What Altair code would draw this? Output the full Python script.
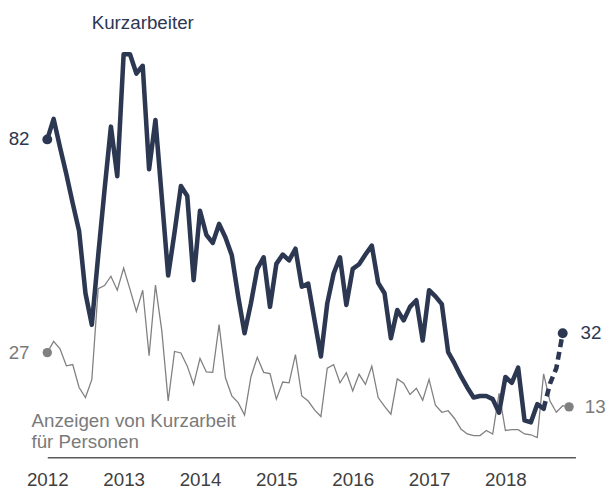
import altair as alt
import pandas as pd

years = ["2012", "2013", "2014", "2015", "2016", "2017", "2018"]

# Kurzarbeiter, monthly from Jan 2012 (last months preliminary -> dashed)
kurzarbeiter = [
    82, 87.3, 80, 73, 65.5, 58.4, 42.3, 34.2, 52, 69, 85.3, 72.5,
    104, 104, 99, 101, 74.3, 87, 67, 46.9, 58, 70, 67.4, 45.7,
    63.6, 57.4, 55.3, 60.2, 56.7, 52.1, 41.5, 32, 39.7, 48.6, 51.6, 38.8,
    49.9, 52.3, 50.8, 53.8, 44, 44.8, 35.4, 26, 39.7, 47.4, 51.6, 39.3,
    48.6, 49.8, 52.3, 54.6, 45, 42.3, 30.7, 38, 35.3, 38.8, 40.5, 30.1,
    43.1, 41.5, 39.5, 27.1, 24.2, 20.9, 18, 15.4, 15.8, 15.8, 15, 11.5,
    20.7, 19.2, 23.1, 9.5, 9, 13.7, 12.5, 19, 23, 32,
]
dash_start = 78

# Anzeigen von Kurzarbeit für Personen, monthly from Jan 2012
anzeigen = [
    27, 29.9, 28, 23.6, 23.9, 18, 15.4, 20, 43.5, 44.3, 46.7, 43.1,
    48.8, 43.3, 37.6, 43.1, 26.2, 44.4, 32.6, 14.5, 27.3, 26.9, 23.5, 18.8,
    25.5, 22, 21.9, 34.2, 20.5, 15.8, 14.1, 10.9, 20.7, 25.8, 21.9, 21.6,
    15, 19.4, 19.2, 26.5, 15.8, 14.5, 12.2, 10.5, 23, 23.9, 19.2, 21.8,
    17.1, 21.4, 18.8, 23.5, 15.4, 13.1, 11.1, 20.2, 19.1, 16.2, 17.8, 14.7,
    20.1, 13.4, 11.6, 12, 10, 7.3, 6, 5.6, 5.6, 6.9, 6, 16.5,
    6.9, 7.1, 7.1, 6, 5.8, 5.1, 21.5, 14.5, 11.6, 13.3, 13,
]

NAVY = "#2c3752"
GRAY = "#808080"
GRAY_TXT = "#7a7a7a"
FONT = "Liberation Sans"
FS = 19

df_k = pd.DataFrame({"m": list(range(len(kurzarbeiter))), "v": kurzarbeiter})
df_k_solid = df_k[df_k.m <= dash_start]
df_k_dash = df_k[df_k.m >= dash_start]
df_a = pd.DataFrame({"m": list(range(len(anzeigen))), "v": anzeigen})

k_first = df_k.iloc[[0]]
k_last = df_k.iloc[[-1]]
a_first = df_a.iloc[[0]]
a_last = df_a.iloc[[-1]]

label_expr = "[" + ",".join("'" + y + "'" for y in years) + "][datum.value / 12]"

x = alt.X(
    "m:Q",
    scale=alt.Scale(domain=[0, 83], nice=False, zero=False),
    axis=alt.Axis(
        values=[12 * i for i in range(len(years))],
        labelExpr=label_expr,
        ticks=False,
        grid=False,
        title=None,
        domainColor="#595959",
        domainWidth=1.5,
        labelFont=FONT,
        labelFontSize=FS,
        labelColor="#404040",
        labelPadding=14,
        labelFlush=False,
        labelOverlap=False,
    ),
)
y = alt.Y("v:Q", scale=alt.Scale(domain=[0, 110], nice=False), axis=None)

gray_line = alt.Chart(df_a).mark_line(color=GRAY, strokeWidth=1.3).encode(x=x, y=y)
navy_solid = alt.Chart(df_k_solid).mark_line(
    color=NAVY, strokeWidth=4.6, strokeJoin="round", strokeCap="round"
).encode(x=x, y=y)
navy_dash = alt.Chart(df_k_dash).mark_line(
    color=NAVY, strokeWidth=4.6, strokeDash=[8, 5]
).encode(x=x, y=y)

navy_pts = alt.Chart(pd.concat([k_first, k_last])).mark_circle(
    color=NAVY, size=100, opacity=1
).encode(x=x, y=y)
gray_pts = alt.Chart(pd.concat([a_first, a_last])).mark_circle(
    color=GRAY, size=90, opacity=1
).encode(x=x, y=y)

txt = dict(font=FONT, fontSize=FS, baseline="middle")
t_k_first = alt.Chart(k_first).mark_text(align="right", dx=-18, color=NAVY, **txt).encode(
    x=x, y=y, text=alt.Text("v:Q", format=".0f"))
t_k_last = alt.Chart(k_last).mark_text(align="left", dx=18, color=NAVY, **txt).encode(
    x=x, y=y, text=alt.Text("v:Q", format=".0f"))
t_a_first = alt.Chart(a_first).mark_text(align="right", dx=-18, color=GRAY_TXT, **txt).encode(
    x=x, y=y, text=alt.Text("v:Q", format=".0f"))
t_a_last = alt.Chart(a_last).mark_text(align="left", dx=16, color=GRAY_TXT, **txt).encode(
    x=x, y=y, text=alt.Text("v:Q", format=".0f"))

name_k = alt.Chart(pd.DataFrame({"t": ["Kurzarbeiter"]})).mark_text(
    align="left", baseline="alphabetic", font=FONT, fontSize=FS, color=NAVY
).encode(x=alt.value(45), y=alt.value(-2), text="t:N")
name_a = alt.Chart(pd.DataFrame({"t": ["Anzeigen von Kurzarbeit\nfür Personen"]})).mark_text(
    align="left", baseline="alphabetic", font=FONT, fontSize=FS, color=GRAY_TXT,
    lineBreak="\n", lineHeight=21.7
).encode(x=alt.value(-16), y=alt.value(401), text="t:N")

chart = alt.layer(
    gray_line, navy_solid, navy_dash, gray_pts, navy_pts,
    t_k_first, t_k_last, t_a_first, t_a_last, name_k, name_a,
).properties(
    width=535.2,
    height=432,
    autosize=alt.AutoSizeParams(type="none"),
    padding={"left": 39.8, "top": 20, "right": 33, "bottom": 32},
).configure_view(stroke=None)

chart.save("out.html", embed_options={"renderer": "svg", "actions": False})
